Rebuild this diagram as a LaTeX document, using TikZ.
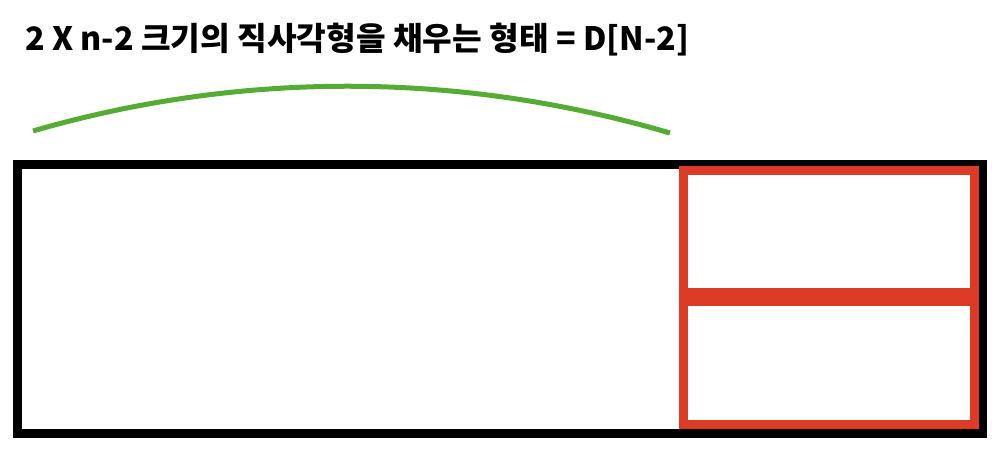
\documentclass[tikz,border=0pt]{standalone}
\usepackage{fontspec}
\usepackage{tikz}
\setmainfont{Noto Sans CJK KR}

\definecolor{spangreen}{RGB}{84,172,52}
\definecolor{tilered}{RGB}{220,59,38}

\begin{document}
\begin{tikzpicture}[x=0.03cm, y=-0.03cm,
    board/.style={draw=black, line width=0.27cm},
    tile/.style={draw=tilered, line width=0.27cm},
    span/.style={draw=spangreen, line width=0.15cm}]
    \useasboundingbox (0,0) rectangle (1004,456);

    % Title
    \node[anchor=base west, inner sep=0pt, font=\bfseries\fontsize{27.5}{32}\selectfont] (title) at (25,51) {2 X n-2 크기의 직사각형을 채우는 형태 = D[N-2]};

    % Span over the 2 x n-2 part
    \draw[span] (33,131) .. controls (240,71) and (459,71) .. (670,133);

    % Board 2 x n
    \draw[board] (17.5,164.5) rectangle (982.2,433.2);

    % Two lying tiles
    \draw[tile] (683.5,170.2) rectangle (974.5,292.2);
    \draw[tile] (683.5,301.2) rectangle (974.5,424.2);
\end{tikzpicture}
\end{document}
